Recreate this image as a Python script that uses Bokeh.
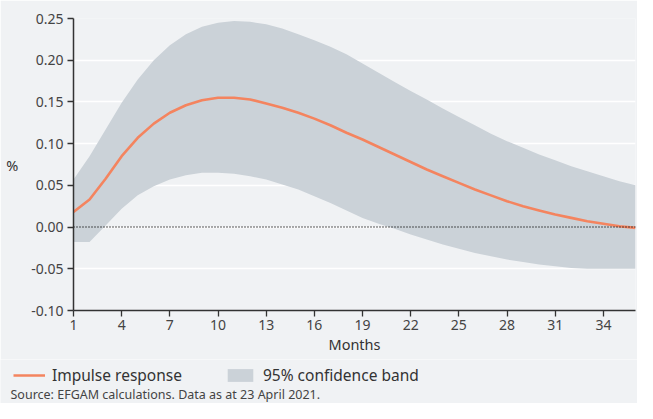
from bokeh.plotting import figure
from bokeh.layouts import column, row
from bokeh.models import (FixedTicker, NumeralTickFormatter, Span, Legend, LegendItem,
                          Label, ColumnDataSource, Range1d)
from bokeh.embed import file_html
from bokeh.resources import INLINE

months = list(range(1, 37))
impulse = [0.018, 0.033, 0.058, 0.085, 0.107, 0.124, 0.137, 0.146, 0.152, 0.155,
           0.155, 0.153, 0.148, 0.143, 0.137, 0.130, 0.122, 0.113, 0.105, 0.096,
           0.087, 0.078, 0.069, 0.061, 0.053, 0.045, 0.038, 0.031, 0.025, 0.020,
           0.015, 0.011, 0.007, 0.004, 0.001, -0.001]
upper = [0.057, 0.085, 0.117, 0.149, 0.177, 0.200, 0.218, 0.231, 0.240, 0.245,
         0.247, 0.246, 0.243, 0.238, 0.231, 0.224, 0.216, 0.207, 0.196, 0.185,
         0.174, 0.163, 0.153, 0.142, 0.132, 0.122, 0.112, 0.103, 0.095, 0.087,
         0.080, 0.073, 0.067, 0.061, 0.055, 0.050]
lower = [-0.018, -0.018, 0.002, 0.022, 0.038, 0.049, 0.057, 0.062, 0.065, 0.065,
         0.064, 0.061, 0.057, 0.051, 0.045, 0.037, 0.029, 0.020, 0.011, 0.004,
         -0.002, -0.009, -0.015, -0.021, -0.026, -0.031, -0.035, -0.039, -0.042,
         -0.045, -0.047, -0.049, -0.050, -0.050, -0.050, -0.050]
x_ticks = [1, 4, 7, 10, 13, 16, 19, 22, 25, 28, 31, 34]
y_ticks = [-0.10, -0.05, 0.0, 0.05, 0.10, 0.15, 0.20, 0.25]
series_names = ["Impulse response", "95% confidence band"]
source_text = "Source: EFGAM calculations. Data as at 23 April 2021."

FONT = "Noto Sans"
BG = "#f0f2f4"
LINE_COLOR = "#f4845f"
BAND_COLOR = "#cbd2d8"

src = ColumnDataSource(dict(m=months, imp=impulse, up=upper, lo=lower))

p = figure(width=637, height=359, output_backend="svg", toolbar_location=None,
           x_range=(1, 36), y_range=(-0.10, 0.25),
           background_fill_color=BG, border_fill_color=BG)
p.min_border_left = 73
p.min_border_right = 2
p.min_border_top = 18
p.min_border_bottom = 49
p.outline_line_color = None

p.varea(x="m", y1="lo", y2="up", source=src, fill_color=BAND_COLOR)
zero = Span(location=0, dimension="width", line_color="#222222", line_dash="1 2", line_width=1.6)
p.add_layout(zero)
p.line(x="m", y="imp", source=src, line_color=LINE_COLOR, line_width=2.6)

p.xgrid.grid_line_color = None
p.ygrid.grid_line_color = "white"
p.ygrid.grid_line_width = 1.5
p.ygrid.ticker = FixedTicker(ticks=y_ticks)

for ax in (p.xaxis[0], p.yaxis[0]):
    ax.axis_line_color = "#333333"
    ax.axis_line_width = 1.5
    ax.major_tick_line_color = "#333333"
    ax.major_tick_line_width = 1.3
    ax.major_tick_in = 0
    ax.major_tick_out = 6
    ax.minor_tick_line_color = None
    ax.major_label_text_font = FONT
    ax.major_label_text_font_size = "14px"
    ax.major_label_text_color = "#444444"
    ax.axis_label_text_font = FONT
    ax.axis_label_text_font_size = "14.5px"
    ax.axis_label_text_font_style = "normal"
    ax.axis_label_text_color = "#333333"

p.xaxis.ticker = FixedTicker(ticks=x_ticks)
p.xaxis.axis_label = "Months"
p.xaxis.major_label_standoff = 3
p.xaxis.axis_label_standoff = 1
p.yaxis.ticker = FixedTicker(ticks=y_ticks)
p.yaxis.formatter = NumeralTickFormatter(format="0.00")
p.yaxis.axis_label = "%"
p.yaxis.axis_label_orientation = "horizontal"
p.yaxis.major_label_standoff = 4
p.yaxis.axis_label_standoff = 10

# footer figure: legend + source note (pixel-like data ranges)
p2 = figure(width=637, height=44, output_backend="svg", toolbar_location=None,
            x_range=Range1d(0, 637), y_range=Range1d(0, 44),
            x_axis_type=None, y_axis_type=None,
            background_fill_color=BG, border_fill_color=BG, min_border=0)
p2.min_border_left = 0
p2.min_border_right = 0
p2.outline_line_color = None
p2.grid.grid_line_color = None
p2.extra_x_ranges = {"off": Range1d(-20, -10)}
leg_line = p2.line(x="m", y="imp", source=src, line_color=LINE_COLOR, line_width=2.6,
                   x_range_name="off")
leg_band = p2.varea(x="m", y1="lo", y2="up", source=src, fill_color=BAND_COLOR,
                    x_range_name="off")

legend = Legend(items=[LegendItem(label=series_names[0], renderers=[leg_line]),
                       LegendItem(label=series_names[1], renderers=[leg_band])],
                orientation="horizontal", location=(13, 17),
                background_fill_alpha=0, border_line_color=None,
                label_text_font=FONT, label_text_font_size="15.5px",
                label_text_color="#333333", glyph_width=32, glyph_height=16,
                label_standoff=7, spacing=42, padding=1, margin=0)
p2.add_layout(legend)

note = Label(x=10, y=9, text=source_text, text_baseline="middle",
             text_font=FONT, text_font_size="12.5px", text_color="#444444")
p2.add_layout(note)

layout = column(p, row(p2, spacing=0), spacing=0)
open("out.html", "w").write(file_html(layout, INLINE))
